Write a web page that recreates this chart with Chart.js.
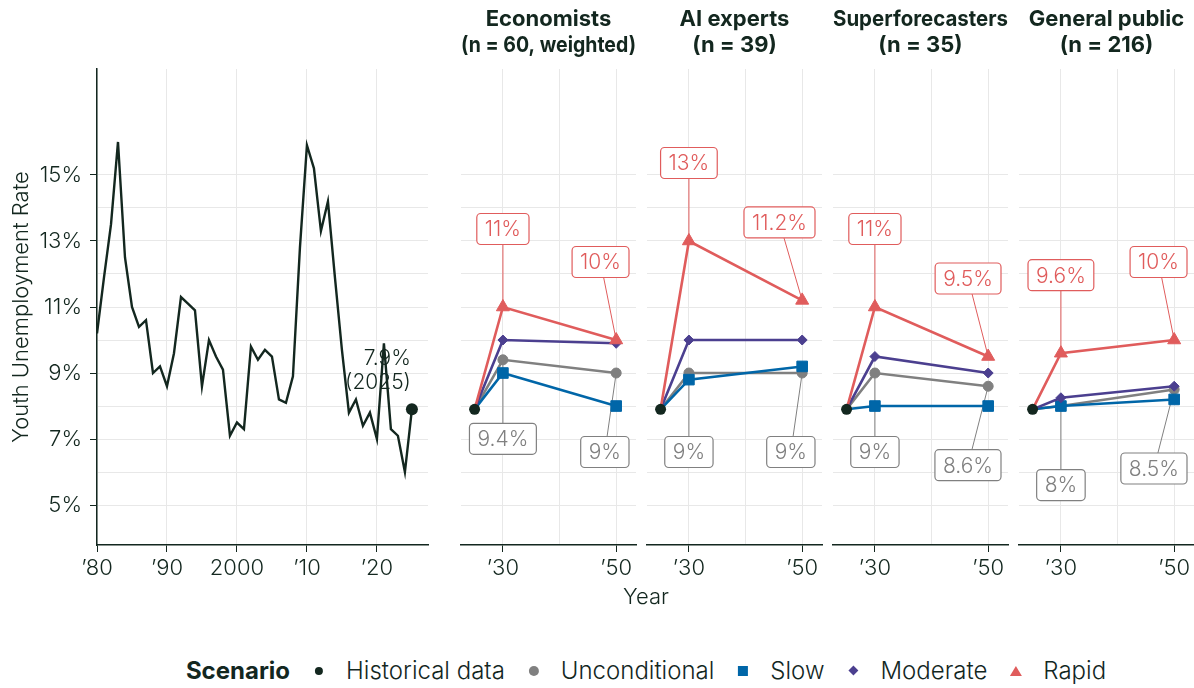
<!DOCTYPE html>
<html lang="en">
<head>
<meta charset="UTF-8" />
<title>Youth unemployment rate scenarios</title>
<script src="https://cdn.jsdelivr.net/npm/chart.js"></script>
<style>
  body {
    margin: 0;
    width: 1194px;
    height: 688px;
    overflow: hidden;
    position: relative;
    background: #fff;
    font-family: Inter, "Noto Sans", sans-serif;
    color: #13271f;
  }
  canvas { position: absolute; top: 0; }
  .year-title {
    position: absolute; left: 646px; top: 583px;
    transform: translateX(-50%);
    font-size: 22px; font-weight: 300;
  }
  .legend {
    position: absolute; left: 646px; top: 656px;
    transform: translateX(-50%);
    display: flex; align-items: center; white-space: nowrap;
    font-size: 24px; font-weight: 300;
  }
  .legend b { font-weight: 700; }
  .legend .mark {
    width: 20px; height: 20px; margin: 0 17px 0 19px;
    display: flex; align-items: center; justify-content: center;
  }
  .dot { width: 8px; height: 8px; border-radius: 50%; background: #13271f; }
  .circle { width: 10px; height: 10px; border-radius: 50%; background: #808080; }
  .square { width: 10px; height: 10px; background: #0066a8; }
  .diamond { width: 7px; height: 7px; background: #4b3f8f; transform: rotate(45deg); }
  .triangle { width: 0; height: 0; border-left: 6px solid transparent; border-right: 6px solid transparent; border-bottom: 10px solid #e05c5c; }
</style>
</head>
<body>
<canvas id="histChart" width="440" height="590" style="left:0px"></canvas>
<canvas id="panel0" width="203" height="590" style="left:447px"></canvas>
<canvas id="panel1" width="203" height="590" style="left:633px"></canvas>
<canvas id="panel2" width="203" height="590" style="left:819px"></canvas>
<canvas id="panel3" width="203" height="590" style="left:1005px"></canvas>

<div class="year-title">Year</div>
<div class="legend">
  <b>Scenario</b>
  <span class="mark"><span class="dot"></span></span>Historical data
  <span class="mark"><span class="circle"></span></span>Unconditional
  <span class="mark"><span class="square"></span></span>Slow
  <span class="mark"><span class="diamond"></span></span>Moderate
  <span class="mark"><span class="triangle"></span></span>Rapid
</div>

<script>
// historical youth unemployment rate (%)
const histYears = [1980, 1981, 1982, 1983, 1984, 1985, 1986, 1987, 1988, 1989,
  1990, 1991, 1992, 1993, 1994, 1995, 1996, 1997, 1998, 1999,
  2000, 2001, 2002, 2003, 2004, 2005, 2006, 2007, 2008, 2009,
  2010, 2011, 2012, 2013, 2014, 2015, 2016, 2017, 2018, 2019,
  2020, 2021, 2022, 2023, 2024, 2025];
const histRate = [10.2, 11.9, 13.5, 16.0, 12.5, 11.0, 10.4, 10.6, 9.0, 9.2,
  8.6, 9.6, 11.3, 11.1, 10.9, 8.6, 10.0, 9.5, 9.1, 7.1,
  7.5, 7.3, 9.8, 9.4, 9.7, 9.5, 8.2, 8.1, 8.9, 12.8,
  15.9, 15.2, 13.3, 14.2, 11.9, 9.7, 7.8, 8.2, 7.4, 7.8,
  7.0, 9.9, 7.3, 7.1, 6.0, 7.9];
const histTickYears = [1980, 1990, 2000, 2010, 2020];
const histTickLabels = ['’80', '’90', '2000', '’10', '’20'];

// forecasts per respondent group: [2030, 2050]
const panelTitles = [
  ['Economists', '(n = 60, weighted)'],
  ['AI experts', '(n = 39)'],
  ['Superforecasters', '(n = 35)'],
  ['General public', '(n = 216)']
];
const baseYear = 2025;
const baseRate = 7.9;
const forecastYears = [2030, 2050];
const forecastTickLabels = ['’30', '’50'];
const unconditional = [[9.4, 9.0], [9.0, 9.0], [9.0, 8.6], [8.0, 8.5]];
const slow = [[9.0, 8.0], [8.8, 9.2], [8.0, 8.0], [8.0, 8.2]];
const moderate = [[10.0, 9.9], [10.0, 10.0], [9.5, 9.0], [8.25, 8.6]];
const rapid = [[11.0, 10.0], [13.0, 11.2], [11.0, 9.5], [9.6, 10.0]];

const rateTicks = [5, 7, 9, 11, 13, 15];
const rateMinorTicks = [6, 8, 10, 12, 14];

const dark = '#13271f';
const gridColor = '#e8e8e8';
const red = '#e05c5c';
const purple = '#4b3f8f';
const blue = '#0066a8';
const grey = '#808080';
const fontFamily = 'Inter, "Noto Sans", sans-serif';

Chart.defaults.font.family = fontFamily;
Chart.defaults.color = dark;

const yMin = 3.79, yMax = 18.21;

function fmtRate(v) {
  return (Math.round(v * 10) / 10) + '%';
}

function rateAxis(showLabels) {
  return {
    min: yMin,
    max: yMax,
    afterBuildTicks: (s) => {
      s.ticks = rateTicks.concat(rateMinorTicks).sort((a, b) => a - b).map(v => ({ value: v }));
    },
    ticks: {
      display: showLabels,
      padding: 8,
      font: { size: 22, weight: 300 },
      color: dark,
      callback: (v) => rateTicks.includes(v) ? v + '%' : ''
    },
    grid: {
      color: gridColor,
      drawTicks: showLabels,
      tickLength: 7,
      tickColor: (c) => rateTicks.includes(c.tick.value) ? dark : 'rgba(0,0,0,0)'
    },
    border: { display: showLabels, color: dark, width: 1.5 },
    title: {
      display: showLabels,
      text: 'Youth Unemployment Rate',
      font: { size: 22, weight: 300 },
      color: dark,
      padding: { top: 8, bottom: 0 }
    },
    afterFit: (s) => { s.width = showLabels ? 97 : 0; }
  };
}

function yearAxis(min, max, tickYears, tickLabels, minorYears) {
  return {
    type: 'linear',
    min: min,
    max: max,
    afterBuildTicks: (s) => {
      s.ticks = tickYears.concat(minorYears).sort((a, b) => a - b).map(v => ({ value: v }));
    },
    ticks: {
      autoSkip: false,
      maxRotation: 0,
      padding: 3,
      font: { size: 22, weight: 300 },
      color: dark,
      callback: (v) => {
        const i = tickYears.indexOf(v);
        return i >= 0 ? tickLabels[i] : '';
      }
    },
    grid: {
      color: gridColor,
      tickLength: 7,
      tickColor: (c) => tickYears.includes(c.tick.value) ? dark : 'rgba(0,0,0,0)'
    },
    border: { color: dark, width: 1.5 },
    afterFit: (s) => { s.height = 45; }
  };
}

// label for the last historical value
const lastValueLabel = {
  id: 'lastValueLabel',
  afterDatasetsDraw(chart) {
    const { ctx, scales: { x, y } } = chart;
    const i = histYears.length - 1;
    const px = x.getPixelForValue(histYears[i]);
    const py = y.getPixelForValue(histRate[i]);
    ctx.save();
    ctx.font = '300 21px ' + fontFamily;
    ctx.fillStyle = dark;
    ctx.textAlign = 'right';
    ctx.textBaseline = 'middle';
    ctx.fillText(fmtRate(histRate[i]), px - 1, py - 51);
    ctx.fillText('(' + histYears[i] + ')', px - 1, py - 27);
    ctx.restore();
  }
};

// boxed value labels with leader lines (rapid above, unconditional below)
function labelGeometry(chart, ctx, item) {
  const { chartArea, scales: { x, y } } = chart;
  const px = x.getPixelForValue(item.year);
  const py = y.getPixelForValue(item.value);
  const text = fmtRate(item.value);
  const w = ctx.measureText(text).width + 16;
  const h = 31;
  const cx = Math.min(px, chartArea.right - 7 - w / 2);
  const cy = py + item.dy;
  return { px, py, text, w, h, cx, cy };
}

const labelFont = '300 21px ' + fontFamily;

const boxLabels = {
  id: 'boxLabels',
  beforeDatasetsDraw(chart, args, opts) {
    const ctx = chart.ctx;
    ctx.save();
    ctx.font = labelFont;
    opts.items.forEach(item => {
      const g = labelGeometry(chart, ctx, item);
      const edgeY = item.dy < 0 ? g.cy + g.h / 2 : g.cy - g.h / 2;
      const t = (edgeY - g.cy) / (g.py - g.cy);
      const sx = g.cx + (g.px - g.cx) * t;
      ctx.strokeStyle = item.color;
      ctx.lineWidth = 1;
      ctx.beginPath();
      ctx.moveTo(sx, edgeY);
      ctx.lineTo(g.px, g.py);
      ctx.stroke();
    });
    ctx.restore();
  },
  afterDatasetsDraw(chart, args, opts) {
    const ctx = chart.ctx;
    ctx.save();
    ctx.font = labelFont;
    ctx.textAlign = 'center';
    ctx.textBaseline = 'middle';
    opts.items.forEach(item => {
      const g = labelGeometry(chart, ctx, item);
      ctx.beginPath();
      ctx.roundRect(g.cx - g.w / 2, g.cy - g.h / 2, g.w, g.h, 4);
      ctx.fillStyle = '#fff';
      ctx.fill();
      ctx.strokeStyle = item.color;
      ctx.lineWidth = 1.2;
      ctx.stroke();
      ctx.fillStyle = item.color;
      ctx.fillText(g.text, g.cx, g.cy + 1);
    });
    ctx.restore();
  }
};

new Chart(document.getElementById('histChart'), {
  type: 'line',
  data: {
    datasets: [{
      label: 'Historical data',
      data: histYears.map((yr, i) => ({ x: yr, y: histRate[i] })),
      borderColor: dark,
      backgroundColor: dark,
      borderWidth: 2.4,
      tension: 0,
      pointRadius: (c) => c.dataIndex === histYears.length - 1 ? 6 : 0,
      pointBorderWidth: 0
    }]
  },
  options: {
    responsive: false,
    animation: false,
    devicePixelRatio: 1,
    events: [],
    layout: { padding: { top: 69, right: 12, left: 0, bottom: 0 } },
    plugins: { legend: { display: false }, tooltip: { enabled: false } },
    scales: {
      x: yearAxis(1980, 2027.3, histTickYears, histTickLabels, []),
      y: rateAxis(true)
    }
  },
  plugins: [lastValueLabel]
});

function scenarioLine(values) {
  return [{ x: baseYear, y: baseRate },
    { x: forecastYears[0], y: values[0] },
    { x: forecastYears[1], y: values[1] }];
}

function scenarioDataset(label, values, color, style, radius) {
  return {
    label: label,
    data: scenarioLine(values),
    borderColor: color,
    backgroundColor: color,
    borderWidth: 2.6,
    tension: 0,
    pointStyle: style,
    pointRadius: (c) => c.dataIndex === 0 ? 0 : radius,
    pointBorderWidth: 1
  };
}

panelTitles.forEach((title, p) => {
  new Chart(document.getElementById('panel' + p), {
    type: 'line',
    data: {
      datasets: [
        {
          label: 'Historical data',
          data: [{ x: baseYear, y: baseRate }],
          backgroundColor: dark,
          borderColor: dark,
          showLine: false,
          pointRadius: 5.5,
          pointBorderWidth: 0
        },
        scenarioDataset('Rapid', rapid[p], red, 'triangle', 7.5),
        scenarioDataset('Moderate', moderate[p], purple, 'rectRot', 5),
        scenarioDataset('Slow', slow[p], blue, 'rect', 7.5),
        scenarioDataset('Unconditional', unconditional[p], grey, 'circle', 5)
      ]
    },
    options: {
      responsive: false,
      animation: false,
      devicePixelRatio: 1,
      events: [],
      layout: { padding: { top: 0, right: 14, left: 14, bottom: 0 } },
      plugins: {
        legend: { display: false },
        tooltip: { enabled: false },
        title: {
          display: true,
          text: title,
          color: dark,
          font: { size: 22, weight: 'bold', lineHeight: 1.15 },
          padding: { top: 7, bottom: 11.4 }
        },
        boxLabels: {
          items: [
            { year: forecastYears[0], value: rapid[p][0], dy: -78, color: red },
            { year: forecastYears[1], value: rapid[p][1], dy: -78, color: red },
            { year: forecastYears[0], value: unconditional[p][0], dy: 79, color: grey },
            { year: forecastYears[1], value: unconditional[p][1], dy: 79, color: grey }
          ]
        }
      },
      scales: {
        x: yearAxis(2022.6, 2053.5, forecastYears, forecastTickLabels, [2040]),
        y: rateAxis(false)
      }
    },
    plugins: [boxLabels]
  });
});
</script>
</body>
</html>
